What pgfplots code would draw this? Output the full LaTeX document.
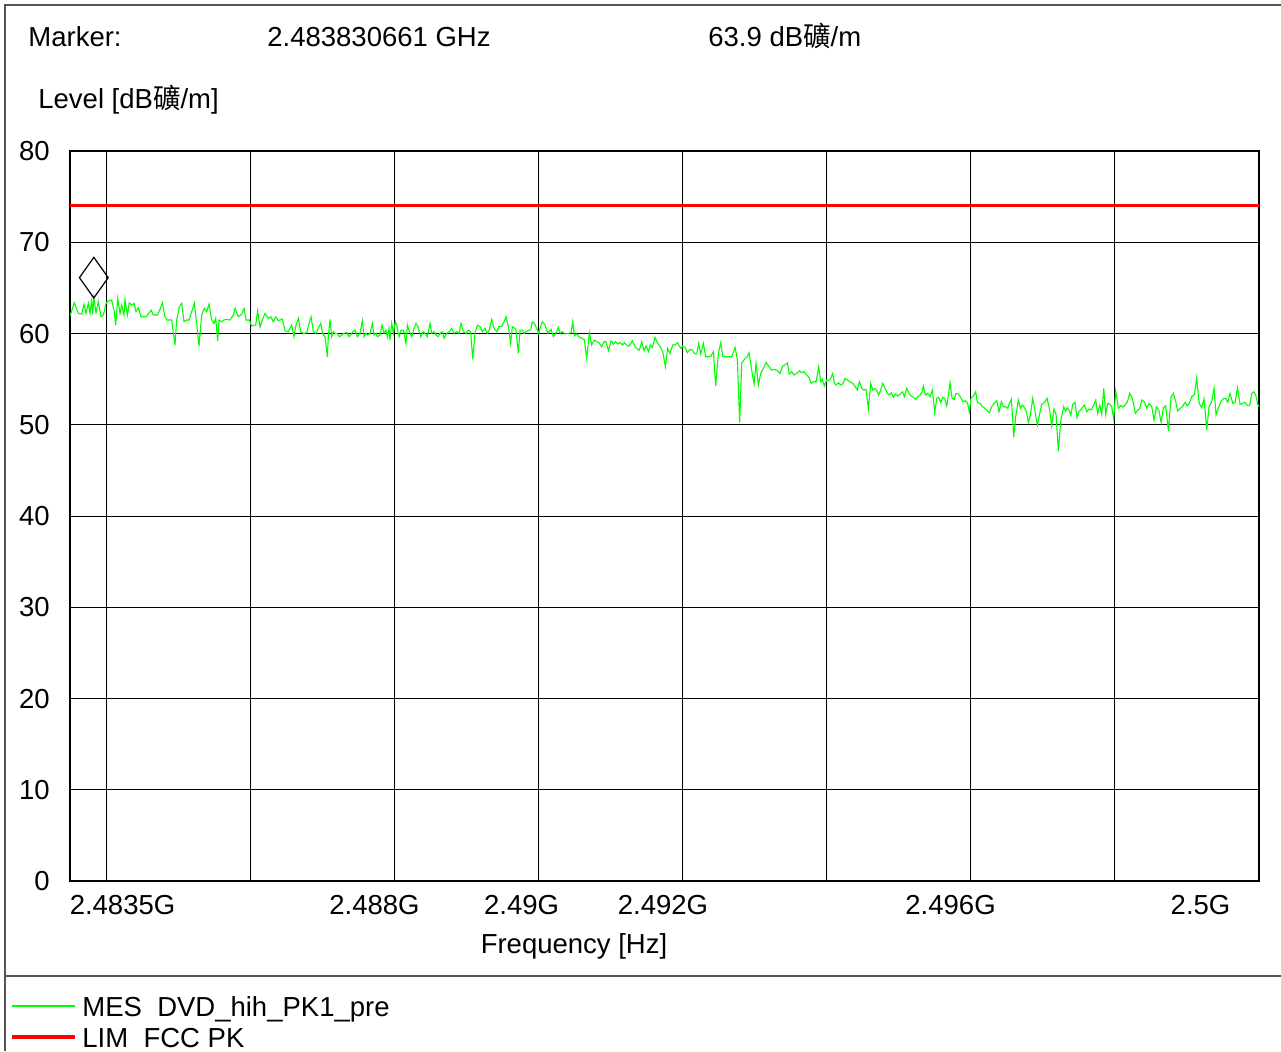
\documentclass[border=0pt]{standalone}
\usepackage{fontspec}
\setmainfont{Liberation Sans}
\newfontfamily\cjk{Noto Sans CJK SC}
\usepackage{pgfplots}
\pgfplotsset{compat=1.18}
\definecolor{trace}{RGB}{0,255,0}
\definecolor{limred}{RGB}{255,0,0}
\definecolor{framegray}{RGB}{85,85,85}
\pgfdeclareplotmark{tipdiamond}{%
  \pgfpathmoveto{\pgfqpoint{0pt}{0pt}}%
  \pgfpathlineto{\pgfqpoint{7.2bp}{10.15bp}}%
  \pgfpathlineto{\pgfqpoint{0pt}{20.3bp}}%
  \pgfpathlineto{\pgfqpoint{-7.2bp}{10.15bp}}%
  \pgfpathclose
  \pgfusepathqstroke}
\begin{document}
\fontsize{13.75bp}{16.5bp}\selectfont
\begin{tikzpicture}
\begin{scope}[x=0.5bp,y=-0.5bp]
\path[use as bounding box] (0,0) rectangle (1281,1051);
\draw[framegray, line width=0.9bp] (5,1051) -- (5,5) -- (1281,5);
\draw[framegray, line width=0.6bp] (5,976) -- (1281,976);
\node[anchor=base west, inner sep=0pt] at (28,46) {Marker:};
\node[anchor=base west, inner sep=0pt] at (267,46) {2.483830661 GHz};
\node[anchor=base west, inner sep=0pt] at (708,46) {63.9 dB{\cjk 礦}/m};
\node[anchor=base west, inner sep=0pt] at (38,108) {Level [dB{\cjk 礦}/m]};
\node[anchor=base, inner sep=0pt] at (574,953) {Frequency [Hz]};
\draw[trace, line width=0.6bp] (12,1006) -- (75,1006);
\node[anchor=base west, inner sep=0pt] at (82,1016) {MES\ \ DVD\_hih\_PK1\_pre};
\draw[limred, line width=1.6bp] (12,1037) -- (75,1037);
\node[anchor=base west, inner sep=0pt] at (82,1047) {LIM\ \ FCC PK};
\end{scope}
\begin{axis}[
  at={(35bp,-440.5bp)}, anchor=south west,
  width=594.5bp, height=365bp, scale only axis,
  xmin=2483.5, xmax=2500, ymin=0, ymax=80,
  xtick={2484.2286,2487.7257,2489.7656,2491.7293,2495.719,2499.188},
  xticklabels={2.4835G,2.488G,2.49G,2.492G,2.496G,2.5G},
  minor xtick={2484,2486,2488,2490,2492,2494,2496,2498},
  xminorgrids=true, xmajorgrids=false,
  ytick={0,10,20,30,40,50,60,70,80},
  yticklabels={0,10,20,30,40,50,60,70,80},
  ymajorgrids=true,
  major tick length=0pt, minor tick length=0pt,
  grid style={black, line width=0.5bp},
  minor grid style={black, line width=0.5bp},
  major grid style={black, line width=0.5bp},
  axis line style={black, line width=1bp},
  xticklabel style={anchor=base, yshift=-16.5bp, inner sep=0pt},
  yticklabel style={anchor=east, xshift=-10bp, inner sep=0pt},
  /pgf/number format/assume math mode=true,
]
\addplot[limred, line width=1.6bp] coordinates {(2483.5,74) (2500,74)};
\addplot[trace, line width=0.55bp] coordinates {
(2483.500,61.92) (2483.560,63.38) (2483.616,62.21) (2483.662,62.14) (2483.694,63.20)
(2483.722,62.21) (2483.754,63.31) (2483.778,62.21) (2483.801,63.60) (2483.815,62.14)
(2483.831,63.90) (2483.861,62.28) (2483.893,63.49) (2483.930,61.84) (2483.953,61.92)
(2483.976,62.39) (2483.995,63.20) (2484.023,63.56) (2484.078,63.67) (2484.111,62.58)
(2484.134,60.93) (2484.162,63.85) (2484.194,62.21) (2484.217,63.12) (2484.249,62.03)
(2484.263,63.74) (2484.296,62.03) (2484.323,63.38) (2484.356,63.12) (2484.388,63.31)
(2484.416,62.39) (2484.448,62.83) (2484.485,61.84) (2484.555,61.84) (2484.587,62.14)
(2484.624,62.58) (2484.656,62.03) (2484.712,62.03) (2484.749,62.65) (2484.781,63.38)
(2484.818,61.84) (2484.842,61.48) (2484.911,61.48) (2484.957,58.74) (2484.980,61.48)
(2485.017,62.94) (2485.050,63.31) (2485.082,61.30) (2485.119,61.48) (2485.151,61.48)
(2485.188,62.39) (2485.225,63.31) (2485.258,61.11) (2485.290,58.63) (2485.327,62.03)
(2485.364,62.76) (2485.397,62.39) (2485.429,63.23) (2485.466,61.48) (2485.498,61.11)
(2485.522,61.66) (2485.549,59.21) (2485.568,61.48) (2485.605,61.30) (2485.637,61.48)
(2485.674,61.55) (2485.720,61.48) (2485.767,62.03) (2485.790,62.76) (2485.836,61.84)
(2485.882,62.14) (2485.915,62.76) (2485.942,61.48) (2485.989,61.48) (2486.021,60.82)
(2486.077,60.93) (2486.104,62.50) (2486.137,60.68) (2486.169,61.48) (2486.206,62.21)
(2486.252,61.66) (2486.285,61.84) (2486.322,61.30) (2486.354,61.84) (2486.391,61.41)
(2486.447,61.59) (2486.484,60.31) (2486.530,60.20) (2486.576,60.93) (2486.609,59.65)
(2486.636,60.93) (2486.669,61.66) (2486.701,60.20) (2486.738,60.02) (2486.784,60.08)
(2486.831,61.48)
(2486.845,61.84) (2486.877,60.20) (2486.909,60.02) (2486.946,60.57) (2486.979,61.11)
(2487.006,60.02) (2487.039,59.65) (2487.071,57.46) (2487.085,59.65) (2487.108,61.55)
(2487.131,59.65) (2487.154,60.20) (2487.178,60.02) (2487.210,60.02) (2487.238,59.65)
(2487.270,59.84) (2487.302,60.02) (2487.339,60.13) (2487.372,59.65) (2487.395,59.84)
(2487.423,60.20) (2487.455,60.38) (2487.487,59.65) (2487.524,60.02) (2487.557,61.41)
(2487.580,59.65) (2487.603,60.02) (2487.631,59.84) (2487.663,60.02) (2487.696,61.11)
(2487.719,59.84) (2487.747,60.02) (2487.765,59.65) (2487.802,59.84) (2487.830,60.93)
(2487.858,60.02) (2487.885,60.38) (2487.904,59.65) (2487.927,60.57) (2487.941,59.29)
(2487.964,61.11) (2487.987,60.02) (2488.015,61.30) (2488.033,60.93) (2488.066,59.65)
(2488.093,60.38) (2488.126,60.38) (2488.163,58.92) (2488.181,60.93) (2488.209,60.20)
(2488.241,59.65) (2488.274,60.57) (2488.302,61.11) (2488.329,60.75) (2488.366,59.65)
(2488.403,60.20) (2488.427,60.02) (2488.459,59.65) (2488.496,61.11) (2488.519,60.02)
(2488.551,60.20) (2488.579,59.84) (2488.607,59.65) (2488.635,60.02) (2488.667,60.20)
(2488.690,59.47) (2488.727,60.02) (2488.764,60.20) (2488.797,60.57) (2488.829,60.02)
(2488.866,60.20) (2488.898,60.02) (2488.926,61.11) (2488.958,60.20) (2488.995,60.02)
(2489.028,60.38) (2489.060,60.20) (2489.088,57.17) (2489.120,60.02) (2489.153,60.93)
(2489.190,60.75) (2489.222,60.20) (2489.259,60.57) (2489.291,60.02) (2489.319,60.38)
(2489.352,61.55) (2489.384,60.57) (2489.421,60.20) (2489.453,60.75) (2489.486,60.75)
(2489.523,61.30) (2489.551,61.84) (2489.583,60.75) (2489.615,58.92) (2489.638,60.75)
(2489.675,60.57) (2489.689,60.38) (2489.722,57.83) (2489.745,60.38) (2489.777,60.38)
(2489.800,60.02) (2489.833,60.20) (2489.865,60.38) (2489.893,60.38) (2489.916,61.30)
(2489.944,61.11) (2489.976,60.57) (2490.004,60.02) (2490.022,60.57) (2490.055,61.30)
(2490.092,60.93)
(2490.129,60.02) (2490.175,60.46) (2490.207,59.65) (2490.240,60.02) (2490.277,60.68)
(2490.300,60.02) (2490.332,60.20) (2490.369,59.95) (2490.416,60.02) (2490.453,60.09)
(2490.476,61.30) (2490.499,59.73) (2490.531,59.95) (2490.564,59.65) (2490.601,59.47)
(2490.638,59.29) (2490.670,57.28) (2490.707,60.09) (2490.739,58.74) (2490.776,59.29)
(2490.809,59.10) (2490.841,59.00) (2490.878,58.56) (2490.911,59.10) (2490.938,59.10)
(2490.971,58.12) (2491.008,59.21) (2491.040,58.85) (2491.072,59.10) (2491.100,58.85)
(2491.133,59.03) (2491.165,58.74) (2491.193,59.00) (2491.225,58.74) (2491.257,58.63)
(2491.304,59.21) (2491.341,58.56) (2491.378,58.26) (2491.401,58.19) (2491.433,59.10)
(2491.466,58.12) (2491.493,58.63) (2491.526,58.01) (2491.554,58.74) (2491.581,58.48)
(2491.618,59.58) (2491.655,58.92) (2491.692,58.56) (2491.725,58.01) (2491.762,56.36)
(2491.794,58.37) (2491.826,57.83) (2491.863,58.74) (2491.896,58.74) (2491.928,59.00)
(2491.956,58.63) (2491.979,58.37) (2492.002,58.63) (2492.035,58.48) (2492.067,57.90)
(2492.104,58.26) (2492.136,58.19) (2492.164,57.83) (2492.197,57.75) (2492.224,58.92)
(2492.252,57.75) (2492.289,58.92) (2492.321,57.46) (2492.358,57.46) (2492.395,57.53)
(2492.428,58.01) (2492.460,54.25) (2492.497,57.83) (2492.530,59.00) (2492.557,57.53)
(2492.599,57.46) (2492.636,57.46) (2492.682,57.46) (2492.729,58.48) (2492.761,57.10)
(2492.793,50.23) (2492.821,56.73) (2492.858,57.17) (2492.890,57.39) (2492.923,57.90)
(2492.960,56.00) (2492.992,54.47) (2493.020,56.73) (2493.052,54.36) (2493.085,55.64)
(2493.122,56.18) (2493.159,56.84) (2493.200,56.36) (2493.237,56.00) (2493.274,56.07)
(2493.316,55.93) (2493.353,55.64)
(2493.390,56.44) (2493.422,56.55) (2493.455,56.80) (2493.482,55.56) (2493.515,55.82)
(2493.547,55.45) (2493.584,55.63) (2493.621,55.93) (2493.654,55.71) (2493.686,55.82)
(2493.723,55.45) (2493.755,55.20) (2493.783,54.54) (2493.816,54.72) (2493.853,54.72)
(2493.890,56.37) (2493.917,54.72) (2493.940,54.98) (2493.968,54.25) (2494.001,54.90)
(2494.024,54.83) (2494.056,55.09) (2494.084,55.63) (2494.107,54.54) (2494.130,54.36)
(2494.162,54.61) (2494.195,54.36) (2494.223,54.47) (2494.255,55.09) (2494.287,54.90)
(2494.324,54.72) (2494.361,54.54) (2494.398,54.17) (2494.426,53.81) (2494.454,54.72)
(2494.486,53.99) (2494.519,53.81) (2494.546,53.88) (2494.579,51.73) (2494.611,54.54)
(2494.639,53.81) (2494.667,53.99) (2494.694,53.81) (2494.722,53.26) (2494.750,53.81)
(2494.778,54.54) (2494.810,53.99) (2494.842,53.44) (2494.870,53.26) (2494.898,53.52)
(2494.926,53.01) (2494.954,53.37) (2494.986,53.15) (2495.018,53.37) (2495.051,53.63)
(2495.078,53.08) (2495.111,53.99) (2495.143,53.44) (2495.171,53.15) (2495.203,53.01)
(2495.236,52.79) (2495.263,53.08) (2495.296,53.26) (2495.324,53.63) (2495.342,54.25)
(2495.370,53.26) (2495.402,53.44) (2495.434,53.08) (2495.467,53.81) (2495.499,51.32)
(2495.527,52.90) (2495.555,53.01) (2495.583,52.42) (2495.610,53.01) (2495.638,52.90)
(2495.666,52.05) (2495.689,53.26) (2495.712,54.61) (2495.740,52.90) (2495.768,52.79)
(2495.795,53.44) (2495.828,53.37) (2495.860,53.01) (2495.888,52.53) (2495.920,52.64)
(2495.953,52.42) (2495.980,51.43) (2496.003,52.90) (2496.036,53.15) (2496.068,53.63)
(2496.091,52.42) (2496.128,52.35) (2496.161,51.98) (2496.198,51.80) (2496.230,51.54)
(2496.258,51.32) (2496.290,51.98) (2496.323,52.35) (2496.360,52.64) (2496.392,51.43)
(2496.424,52.53) (2496.452,51.98) (2496.485,51.98) (2496.512,51.80) (2496.535,52.35)
(2496.563,52.79)
(2496.596,48.69) (2496.623,50.89) (2496.660,52.71) (2496.688,51.80) (2496.716,52.16)
(2496.744,51.87) (2496.771,51.43) (2496.799,50.27) (2496.827,51.07) (2496.859,52.90)
(2496.892,51.43) (2496.924,49.97) (2496.952,51.07) (2496.984,52.24) (2497.021,52.46)
(2497.058,52.90) (2497.091,51.80) (2497.123,49.90) (2497.155,51.73) (2497.183,51.14)
(2497.215,47.12) (2497.248,50.41) (2497.289,51.98) (2497.317,51.51) (2497.340,51.87)
(2497.363,51.62) (2497.387,51.00) (2497.414,52.24) (2497.447,52.46) (2497.474,50.78)
(2497.502,51.43) (2497.539,51.80) (2497.576,52.16) (2497.609,51.43) (2497.641,51.73)
(2497.669,51.62) (2497.701,52.09) (2497.734,52.71) (2497.761,51.25) (2497.789,52.16)
(2497.817,51.14) (2497.845,53.99) (2497.872,51.14) (2497.900,52.35) (2497.928,52.24)
(2497.956,51.98) (2497.983,50.63) (2498.011,53.70) (2498.048,51.80) (2498.080,52.09)
(2498.108,51.95) (2498.141,52.16) (2498.173,52.53) (2498.205,53.44) (2498.242,52.90)
(2498.284,51.25) (2498.316,51.62) (2498.344,51.73) (2498.372,52.71) (2498.409,52.53)
(2498.441,51.80) (2498.474,52.35) (2498.511,51.98) (2498.543,50.52) (2498.575,51.98)
(2498.608,51.62) (2498.640,50.27) (2498.673,51.87) (2498.705,52.09) (2498.742,49.32)
(2498.779,53.08) (2498.811,53.44) (2498.844,52.53) (2498.871,51.51) (2498.904,51.80)
(2498.936,51.98) (2498.973,52.46) (2499.001,52.09) (2499.033,52.35) (2499.066,53.08)
(2499.103,53.33) (2499.135,55.16) (2499.168,52.35) (2499.205,51.87) (2499.237,52.82)
(2499.274,49.42) (2499.306,51.98) (2499.343,52.53) (2499.376,53.99) (2499.403,51.07)
(2499.436,51.87) (2499.473,52.60) (2499.510,52.90) (2499.538,52.90) (2499.565,52.46)
(2499.598,53.44) (2499.635,52.35) (2499.667,52.46) (2499.700,54.06) (2499.737,52.24)
(2499.769,52.35) (2499.806,52.46) (2499.843,52.09) (2499.871,52.16) (2499.898,53.44)
(2499.926,53.63) (2499.954,53.26) (2499.982,52.24) (2500.000,51.98)
};
\addplot[only marks, mark=tipdiamond, mark options={draw=black, line width=0.6bp}] coordinates {(2483.8307,63.9)};
\end{axis}
\end{tikzpicture}
\end{document}
